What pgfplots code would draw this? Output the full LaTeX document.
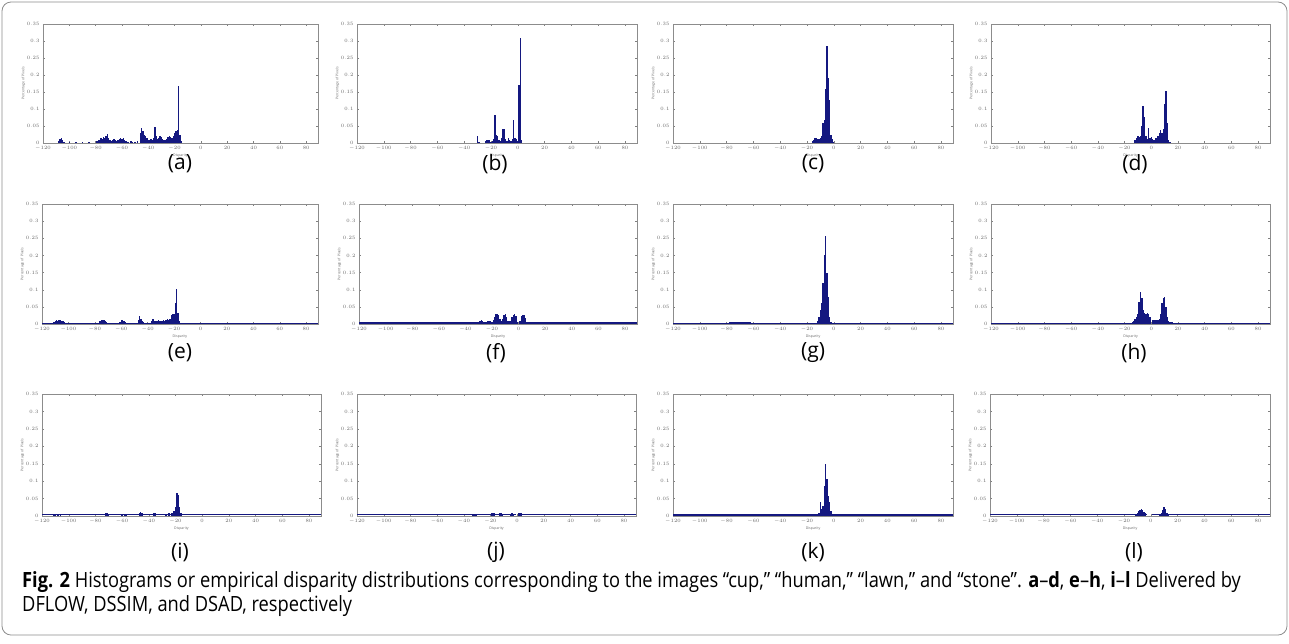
\documentclass[border=0pt]{standalone}
\usepackage{fontspec}
\setmainfont{Open Sans}
\newfontfamily\capfont{Open Sans}[FakeStretch=0.87]
\usepackage{pgfplots}
\pgfplotsset{compat=1.18}
\definecolor{matblue}{RGB}{20,24,128}
\pgfplotsset{
  panel/.style={
    scale only axis, anchor=north west,
    xmin=-120, xmax=89, ymin=0, ymax=0.35,
    xtick={-120,-100,...,80},
    ytick={0,0.05,0.1,0.15,0.2,0.25,0.3,0.35},
    scaled y ticks=false,
    yticklabel style={/pgf/number format/fixed,/pgf/number format/precision=2},
    tick label style={font=\fontsize{3.5}{4}\selectfont, text=black!60},
    tick align=inside, major tick length=2pt,
    every tick/.style={black!50, line width=0.3pt},
    axis line style={black!45, line width=0.5pt},
    xlabel={Disparity}, ylabel={Percentage of Pixels},
    label style={font=\fontsize{3.5}{4}\selectfont, text=black!60},
    xlabel style={yshift=4pt},
    ylabel style={yshift=-5pt},
  },
  hist/.style={ycomb, matblue, line width=1.4pt, mark=none},
  base/.style={matblue, line width=1.2pt, mark=none},
}
\newcommand{\sublabel}[3]{\node[inner sep=0pt, font=\fontsize{21}{24}\selectfont] at (#1pt,-#2pt) {(#3)};}
\begin{document}
\begin{tikzpicture}
\path[use as bounding box] (0pt,0pt) rectangle (1289pt,-643pt);
\draw[black!45, line width=0.8pt, rounded corners=9pt] (2pt,-2pt) rectangle (1287pt,-635pt);

% (a)
\begin{axis}[panel, at={(43pt,-24pt)}, width=275pt, height=119pt]
\addplot[hist] coordinates {(-108,0.006)(-107,0.013)(-106,0.015)(-105,0.01)(-104,0.004)(-100,0.002)(-95,0.002)(-90,0.002)(-85,0.002)
(-79,0.005)(-78,0.008)(-77,0.01)(-76,0.014)(-75,0.012)(-74,0.018)(-73,0.015)(-72,0.02)(-71,0.027)(-70,0.016)(-69,0.01)(-68,0.006)(-67,0.008)(-66,0.012)(-65,0.01)(-64,0.006)(-63,0.008)(-62,0.012)(-61,0.015)(-60,0.013)(-59,0.014)(-58,0.01)(-57,0.006)(-56,0.004)(-55,0.003)(-53,0.005)(-52,0.004)(-50,0.003)(-48,0.006)
(-46,0.03)(-45,0.045)(-44,0.035)(-43,0.025)(-42,0.022)(-41,0.015)(-40,0.01)(-39,0.008)(-38,0.012)(-37,0.01)(-36,0.015)(-35,0.047)(-34,0.02)(-33,0.012)(-32,0.015)(-31,0.022)(-30,0.018)(-29,0.012)(-28,0.01)(-27,0.008)(-26,0.012)(-25,0.018)(-24,0.02)(-23,0.018)(-22,0.015)(-21,0.022)(-20,0.03)(-19,0.035)(-18,0.038)(-17,0.168)(-16,0.025)(-15,0.005)};
\end{axis}
% (b)
\begin{axis}[panel, at={(357pt,-24pt)}, width=280pt, height=119pt]
\addplot[hist] coordinates {(-30,0.022)(-29,0.004)(-24,0.006)(-23,0.01)(-22,0.01)(-21,0.008)(-20,0.004)(-19,0.006)(-18,0.012)(-17,0.081)(-16,0.025)(-15,0.02)(-14,0.008)(-13,0.006)(-12,0.015)(-11,0.042)(-10,0.04)(-9,0.012)(-8,0.006)(-7,0.015)(-6,0.008)(-5,0.005)(-4,0.012)(-3,0.067)(-2,0.015)(-1,0.012)(0,0.006)(1,0.17)(2,0.31)(3,0.01)};
\end{axis}
% (c)
\begin{axis}[panel, at={(673pt,-24pt)}, width=280pt, height=119pt]
\addplot[hist] coordinates {(-16,0.005)(-15,0.01)(-14,0.014)(-13,0.016)(-12,0.013)(-11,0.012)(-10,0.014)(-9,0.02)(-8,0.058)(-7,0.068)(-6,0.16)(-5,0.286)(-4,0.19)(-3,0.126)(-2,0.024)(-1,0.012)(0,0.004)};
\end{axis}
% (d)
\begin{axis}[panel, at={(991pt,-24pt)}, width=279pt, height=119pt]
\addplot[hist] coordinates {(-12,0.008)(-11,0.015)(-10,0.02)(-9,0.018)(-8,0.022)(-7,0.049)(-6,0.108)(-5,0.077)(-4,0.02)(-3,0.012)(-2,0.045)(-1,0.015)(0,0.018)(1,0.012)(2,0.01)(3,0.014)(4,0.015)(5,0.02)(6,0.028)(7,0.037)(8,0.03)(9,0.04)(10,0.116)(11,0.152)(12,0.058)(13,0.01)(14,0.004)};
\end{axis}

% (e)
\begin{axis}[panel, at={(42pt,-204pt)}, width=276pt, height=120pt]
\addplot[base] coordinates {(-120,0.002)(89,0.002)};
\addplot[hist] coordinates {(-111,0.006)(-110,0.01)(-109,0.012)(-108,0.01)(-107,0.011)(-106,0.012)(-105,0.01)(-104,0.008)(-103,0.006)
(-76,0.008)(-75,0.012)(-74,0.013)(-73,0.012)(-72,0.01)(-71,0.006)
(-61,0.007)(-60,0.011)(-59,0.012)(-58,0.01)(-57,0.007)
(-47,0.012)(-46,0.022)(-45,0.015)(-44,0.01)(-43,0.006)
(-37,0.008)(-36,0.016)(-35,0.01)(-34,0.008)(-33,0.01)(-32,0.012)(-31,0.01)(-30,0.008)(-29,0.01)(-28,0.012)(-27,0.01)(-26,0.013)(-25,0.015)(-24,0.012)(-23,0.016)(-22,0.025)(-21,0.03)(-20,0.03)(-19,0.061)(-18,0.102)(-17,0.032)(-16,0.01)(-15,0.004)};
\end{axis}
% (f)
\begin{axis}[panel, at={(359pt,-204pt)}, width=278pt, height=120pt]
\addplot[base] coordinates {(-120,0.003)(-1,0.003)};
\addplot[base] coordinates {(1,0.003)(89,0.003)};
\addplot[hist] coordinates {(-30,0.006)(-29,0.01)(-28,0.011)(-27,0.008)(-26,0.005)(-24,0.006)(-23,0.009)(-22,0.01)(-21,0.008)(-19,0.012)(-18,0.02)(-17,0.028)(-16,0.029)(-15,0.025)(-14,0.015)(-13,0.01)(-12,0.015)(-11,0.026)(-10,0.028)(-9,0.02)(-8,0.01)(-7,0.008)(-6,0.01)(-5,0.02)(-4,0.027)(-3,0.028)(-2,0.022)(-1,0.006)(1,0.01)(2,0.022)(3,0.027)(4,0.027)(5,0.018)(6,0.006)};
\end{axis}
% (g)
\begin{axis}[panel, at={(673pt,-204pt)}, width=280pt, height=120pt]
\addplot[base] coordinates {(-120,0.002)(89,0.002)};
\addplot[hist] coordinates {(-78,0.005)(-77,0.006)(-76,0.007)(-75,0.006)(-74,0.007)(-73,0.006)(-72,0.007)(-71,0.006)(-70,0.007)(-69,0.006)(-68,0.006)(-67,0.007)(-66,0.006)(-65,0.006)(-64,0.005)(-63,0.006)(-62,0.005)(-61,0.004)
(-13,0.004)(-12,0.008)(-11,0.02)(-10,0.04)(-9,0.06)(-8,0.12)(-7,0.2)(-6,0.257)(-5,0.15)(-4,0.08)(-3,0.02)(-2,0.005)};
\end{axis}
% (h)
\begin{axis}[panel, at={(991pt,-204pt)}, width=279pt, height=120pt]
\addplot[base] coordinates {(-120,0.002)(-1,0.002)};
\addplot[base] coordinates {(1,0.002)(89,0.002)};
\addplot[hist] coordinates {(-14,0.005)(-13,0.01)(-12,0.015)(-11,0.02)(-10,0.03)(-9,0.065)(-8,0.093)(-7,0.076)(-6,0.04)(-5,0.032)(-4,0.03)(-3,0.031)(-2,0.03)(-1,0.02)(1,0.012)(2,0.013)(3,0.012)(4,0.011)(5,0.013)(6,0.015)(7,0.03)(8,0.06)(9,0.075)(10,0.08)(11,0.05)(12,0.02)(13,0.01)(14,0.006)(15,0.005)(16,0.005)(17,0.004)(18,0.004)(19,0.004)(20,0.004)(21,0.003)(22,0.003)};
\end{axis}

% (i)
\begin{axis}[panel, at={(42pt,-394pt)}, width=279pt, height=122pt]
\addplot[base] coordinates {(-120,0.004)(89,0.004)};
\addplot[hist] coordinates {(-111,0.006)(-110,0.007)(-108,0.007)(-106,0.006)(-72,0.009)(-71,0.01)(-70,0.007)(-60,0.006)(-58,0.007)(-57,0.006)(-47,0.009)(-46,0.012)(-45,0.01)(-36,0.008)(-35,0.009)(-27,0.007)(-25,0.008)(-23,0.008)(-22,0.01)(-21,0.015)(-20,0.027)(-19,0.066)(-18,0.061)(-17,0.027)(-16,0.008)};
\end{axis}
% (j)
\begin{axis}[panel, at={(357pt,-394pt)}, width=279pt, height=122pt]
\addplot[base] coordinates {(-120,0.004)(-1,0.004)};
\addplot[base] coordinates {(1,0.004)(89,0.004)};
\addplot[hist] coordinates {(-33,0.005)(-32,0.006)(-31,0.005)(-19,0.008)(-18,0.01)(-17,0.009)(-13,0.008)(-12,0.009)(-11,0.007)(-5,0.007)(-4,0.008)(-3,0.007)(1,0.009)(2,0.01)(3,0.008)};
\end{axis}
% (k)
\begin{axis}[panel, at={(673pt,-394pt)}, width=280pt, height=122pt]
\addplot[base] coordinates {(-120,0.003)(89,0.003)};
\addplot[hist] coordinates {(-60,0.005)(-58,0.005)(-56,0.005)(-54,0.005)(-52,0.005)(-50,0.005)(-48,0.004)
(-11,0.01)(-10,0.039)(-9,0.02)(-8,0.03)(-7,0.087)(-6,0.15)(-5,0.107)(-4,0.058)(-3,0.04)(-2,0.015)(-1,0.005)(80,0.005)(82,0.005)(84,0.005)(86,0.005)};
\end{axis}
% (l)
\begin{axis}[panel, at={(990pt,-394pt)}, width=280pt, height=122pt]
\addplot[base] coordinates {(-120,0.004)(-3,0.004)};
\addplot[base] coordinates {(1,0.004)(89,0.004)};
\addplot[hist] coordinates {(-11,0.006)(-10,0.01)(-9,0.015)(-8,0.018)(-7,0.02)(-6,0.017)(-5,0.012)(-4,0.008)(7,0.006)(8,0.01)(9,0.018)(10,0.026)(11,0.02)(12,0.01)(13,0.006)};
\end{axis}

\sublabel{180}{164}{a}
\sublabel{495}{164}{b}
\sublabel{813}{164}{c}
\sublabel{1135}{164}{d}
\sublabel{180}{353}{e}
\sublabel{496}{353}{f}
\sublabel{813}{353}{g}
\sublabel{1134}{353}{h}
\sublabel{180}{552}{i}
\sublabel{496}{552}{j}
\sublabel{813}{552}{k}
\sublabel{1134}{552}{l}

\node[anchor=north west, align=left, inner sep=0pt, font=\capfont\fontsize{21}{24}\selectfont] at (22pt,-571pt)
{\textbf{Fig. 2} Histograms or empirical disparity distributions corresponding to the images “cup,” “human,” “lawn,” and “stone”. \textbf{a}–\textbf{d}, \textbf{e}–\textbf{h}, \textbf{i}–\textbf{l} Delivered by\\DFLOW, DSSIM, and DSAD, respectively};
\end{tikzpicture}
\end{document}
